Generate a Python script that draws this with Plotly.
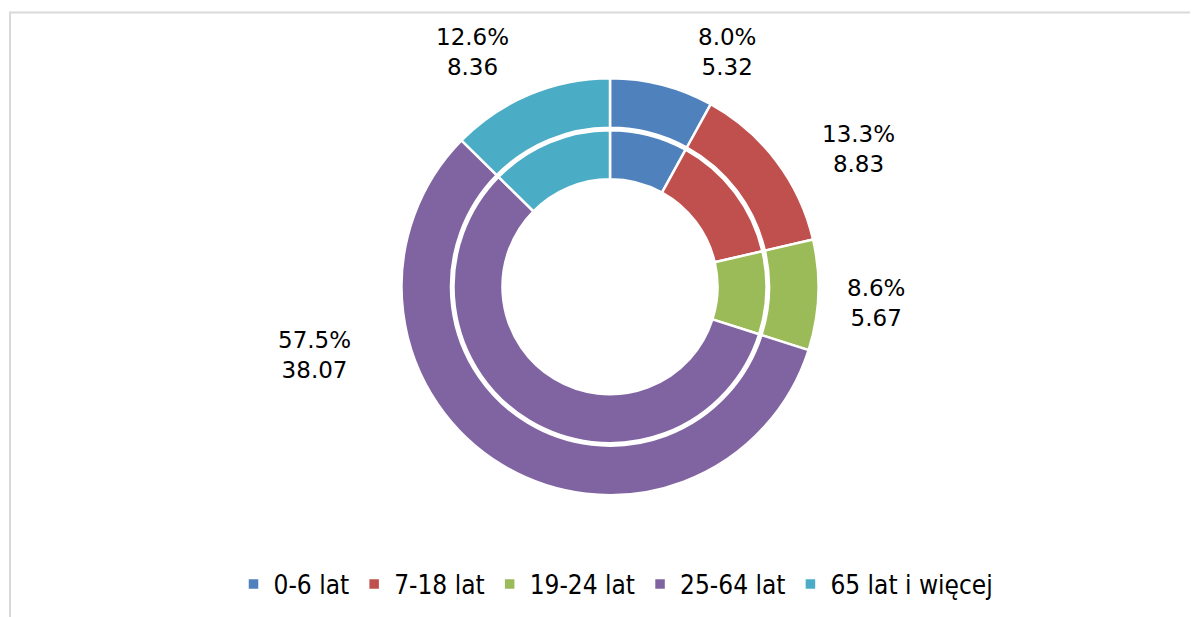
import plotly.graph_objects as go

# ---- data ----
categories = ["0-6 lat", "7-18 lat", "19-24 lat", "25-64 lat", "65 lat i więcej"]
outer_values = [5.32, 8.83, 5.67, 38.07, 8.36]
inner_values = [5.32, 8.83, 5.67, 38.07, 8.36]
colors = ["#4F81BD", "#C0504D", "#9BBB59", "#8064A2", "#4BACC6"]

# label placement (pixel centres of each data label block, screen coords) -- style only
label_pos_px = [(727, 52), (858, 149), (876, 303), (314, 355), (472, 52)]

W, H = 1198, 617
OFF = 8  # page body margin in the screenshot
CX, CY = 610, 286.7
R_OUT, R_OUT_HOLE = 208.5, 159.0
R_IN, R_IN_HOLE = 156.5, 107.5


def px_x(x):
    return (x - OFF) / W


def px_y(y):
    return 1 - (y - OFF) / H


def dom(r):
    return dict(x=[px_x(CX - r), px_x(CX + r)], y=[px_y(CY + r), px_y(CY - r)])


fig = go.Figure()
fig.add_trace(go.Pie(
    labels=categories, values=inner_values, sort=False, direction="clockwise",
    rotation=0, hole=R_IN_HOLE / R_IN, domain=dom(R_IN),
    marker=dict(colors=colors, line=dict(color="white", width=2.5)),
    textinfo="none", hoverinfo="label+value+percent", showlegend=False,
))
fig.add_trace(go.Pie(
    labels=categories, values=outer_values, sort=False, direction="clockwise",
    rotation=0, hole=R_OUT_HOLE / R_OUT, domain=dom(R_OUT),
    marker=dict(colors=colors, line=dict(color="white", width=2.5)),
    textinfo="none", hoverinfo="label+value+percent", showlegend=True,
))

total = sum(outer_values)
annotations = []
for v, (px, py) in zip(outer_values, label_pos_px):
    annotations.append(dict(
        x=px_x(px), y=px_y(py), xref="paper", yref="paper",
        xanchor="center", yanchor="middle", align="center", showarrow=False,
        text=f"{v / total * 100:.1f}%<br>{v:.2f}",
        font=dict(family="DejaVu Sans", size=23, color="#000000"),
    ))

fig.update_layout(
    width=W, height=H,
    margin=dict(l=0, r=0, t=0, b=0),
    paper_bgcolor="white", plot_bgcolor="white",
    annotations=annotations,
    legend=dict(
        orientation="h", x=px_x(616), xanchor="center", y=px_y(584), yanchor="middle",
        font=dict(family="DejaVu Sans Condensed", size=26, color="#000000"),
        traceorder="normal",
    ),
    shapes=[dict(type="rect", xref="paper", yref="paper",
                 x0=px_x(10), x1=1.05, y0=-0.05, y1=px_y(12.5),
                 line=dict(color="#D9D9D9", width=2), layer="below")],
)

fig.write_html("out.html")
